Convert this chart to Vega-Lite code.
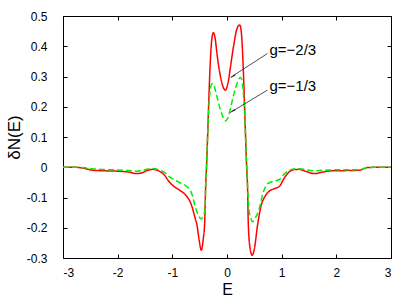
{
  "$schema": "https://vega.github.io/schema/vega-lite/v6.json",
  "width": 328,
  "height": 242,
  "autosize": "none",
  "padding": {"left": 63, "top": 16, "right": 24, "bottom": 39},
  "background": "white",
  "config": {
    "view": {"stroke": null},
    "font": "Liberation Sans",
    "axis": {"grid": false, "domainColor": "black", "tickColor": "black", "labelColor": "black", "titleColor": "black", "labelFont": "Liberation Sans", "titleFont": "Liberation Sans", "labelFontSize": 12, "titleFontSize": 17, "titleFontWeight": "normal", "domainWidth": 1, "tickWidth": 1}
  },
  "datasets": {
    "curves": [
      {"E": -3.0, "dN": 0, "g": "g=-2/3"},
      {"E": -2.8, "dN": 0, "g": "g=-2/3"},
      {"E": -2.6, "dN": -0.004, "g": "g=-2/3"},
      {"E": -2.45, "dN": -0.01, "g": "g=-2/3"},
      {"E": -2.2, "dN": -0.012, "g": "g=-2/3"},
      {"E": -2.0, "dN": -0.013, "g": "g=-2/3"},
      {"E": -1.8, "dN": -0.016, "g": "g=-2/3"},
      {"E": -1.65, "dN": -0.021, "g": "g=-2/3"},
      {"E": -1.55, "dN": -0.018, "g": "g=-2/3"},
      {"E": -1.45, "dN": -0.01, "g": "g=-2/3"},
      {"E": -1.35, "dN": -0.007, "g": "g=-2/3"},
      {"E": -1.25, "dN": -0.012, "g": "g=-2/3"},
      {"E": -1.15, "dN": -0.025, "g": "g=-2/3"},
      {"E": -1.05, "dN": -0.05, "g": "g=-2/3"},
      {"E": -0.95, "dN": -0.066, "g": "g=-2/3"},
      {"E": -0.85, "dN": -0.078, "g": "g=-2/3"},
      {"E": -0.75, "dN": -0.093, "g": "g=-2/3"},
      {"E": -0.65, "dN": -0.125, "g": "g=-2/3"},
      {"E": -0.58, "dN": -0.17, "g": "g=-2/3"},
      {"E": -0.55, "dN": -0.19, "g": "g=-2/3"},
      {"E": -0.51, "dN": -0.24, "g": "g=-2/3"},
      {"E": -0.47, "dN": -0.274, "g": "g=-2/3"},
      {"E": -0.43, "dN": -0.23, "g": "g=-2/3"},
      {"E": -0.41, "dN": -0.19, "g": "g=-2/3"},
      {"E": -0.39, "dN": -0.06, "g": "g=-2/3"},
      {"E": -0.375, "dN": 0, "g": "g=-2/3"},
      {"E": -0.355, "dN": 0.1, "g": "g=-2/3"},
      {"E": -0.335, "dN": 0.21, "g": "g=-2/3"},
      {"E": -0.31, "dN": 0.33, "g": "g=-2/3"},
      {"E": -0.28, "dN": 0.42, "g": "g=-2/3"},
      {"E": -0.25, "dN": 0.445, "g": "g=-2/3"},
      {"E": -0.22, "dN": 0.43, "g": "g=-2/3"},
      {"E": -0.18, "dN": 0.37, "g": "g=-2/3"},
      {"E": -0.13, "dN": 0.31, "g": "g=-2/3"},
      {"E": -0.08, "dN": 0.27, "g": "g=-2/3"},
      {"E": -0.03, "dN": 0.255, "g": "g=-2/3"},
      {"E": 0.02, "dN": 0.28, "g": "g=-2/3"},
      {"E": 0.07, "dN": 0.34, "g": "g=-2/3"},
      {"E": 0.12, "dN": 0.4, "g": "g=-2/3"},
      {"E": 0.17, "dN": 0.45, "g": "g=-2/3"},
      {"E": 0.21, "dN": 0.468, "g": "g=-2/3"},
      {"E": 0.234, "dN": 0.47, "g": "g=-2/3"},
      {"E": 0.26, "dN": 0.45, "g": "g=-2/3"},
      {"E": 0.29, "dN": 0.36, "g": "g=-2/3"},
      {"E": 0.32, "dN": 0.21, "g": "g=-2/3"},
      {"E": 0.34, "dN": 0.1, "g": "g=-2/3"},
      {"E": 0.36, "dN": 0, "g": "g=-2/3"},
      {"E": 0.375, "dN": -0.06, "g": "g=-2/3"},
      {"E": 0.39, "dN": -0.19, "g": "g=-2/3"},
      {"E": 0.42, "dN": -0.265, "g": "g=-2/3"},
      {"E": 0.46, "dN": -0.291, "g": "g=-2/3"},
      {"E": 0.5, "dN": -0.27, "g": "g=-2/3"},
      {"E": 0.56, "dN": -0.19, "g": "g=-2/3"},
      {"E": 0.62, "dN": -0.13, "g": "g=-2/3"},
      {"E": 0.7, "dN": -0.095, "g": "g=-2/3"},
      {"E": 0.78, "dN": -0.078, "g": "g=-2/3"},
      {"E": 0.88, "dN": -0.07, "g": "g=-2/3"},
      {"E": 0.96, "dN": -0.063, "g": "g=-2/3"},
      {"E": 1.05, "dN": -0.035, "g": "g=-2/3"},
      {"E": 1.14, "dN": -0.015, "g": "g=-2/3"},
      {"E": 1.22, "dN": -0.008, "g": "g=-2/3"},
      {"E": 1.32, "dN": -0.007, "g": "g=-2/3"},
      {"E": 1.45, "dN": -0.014, "g": "g=-2/3"},
      {"E": 1.6, "dN": -0.021, "g": "g=-2/3"},
      {"E": 1.75, "dN": -0.016, "g": "g=-2/3"},
      {"E": 1.9, "dN": -0.012, "g": "g=-2/3"},
      {"E": 2.2, "dN": -0.011, "g": "g=-2/3"},
      {"E": 2.42, "dN": -0.01, "g": "g=-2/3"},
      {"E": 2.57, "dN": -0.001, "g": "g=-2/3"},
      {"E": 2.8, "dN": 0, "g": "g=-2/3"},
      {"E": 3.0, "dN": 0, "g": "g=-2/3"},
      {"E": -3.0, "dN": 0, "g": "g=-1/3"},
      {"E": -2.8, "dN": 0, "g": "g=-1/3"},
      {"E": -2.6, "dN": -0.002, "g": "g=-1/3"},
      {"E": -2.4, "dN": -0.006, "g": "g=-1/3"},
      {"E": -2.2, "dN": -0.008, "g": "g=-1/3"},
      {"E": -2.0, "dN": -0.009, "g": "g=-1/3"},
      {"E": -1.8, "dN": -0.011, "g": "g=-1/3"},
      {"E": -1.65, "dN": -0.013, "g": "g=-1/3"},
      {"E": -1.55, "dN": -0.011, "g": "g=-1/3"},
      {"E": -1.45, "dN": -0.006, "g": "g=-1/3"},
      {"E": -1.35, "dN": -0.004, "g": "g=-1/3"},
      {"E": -1.25, "dN": -0.008, "g": "g=-1/3"},
      {"E": -1.15, "dN": -0.016, "g": "g=-1/3"},
      {"E": -1.05, "dN": -0.032, "g": "g=-1/3"},
      {"E": -0.95, "dN": -0.043, "g": "g=-1/3"},
      {"E": -0.85, "dN": -0.052, "g": "g=-1/3"},
      {"E": -0.75, "dN": -0.062, "g": "g=-1/3"},
      {"E": -0.65, "dN": -0.085, "g": "g=-1/3"},
      {"E": -0.57, "dN": -0.137, "g": "g=-1/3"},
      {"E": -0.52, "dN": -0.16, "g": "g=-1/3"},
      {"E": -0.47, "dN": -0.171, "g": "g=-1/3"},
      {"E": -0.43, "dN": -0.16, "g": "g=-1/3"},
      {"E": -0.4, "dN": -0.137, "g": "g=-1/3"},
      {"E": -0.39, "dN": -0.06, "g": "g=-1/3"},
      {"E": -0.375, "dN": 0, "g": "g=-1/3"},
      {"E": -0.355, "dN": 0.1, "g": "g=-1/3"},
      {"E": -0.335, "dN": 0.19, "g": "g=-1/3"},
      {"E": -0.31, "dN": 0.25, "g": "g=-1/3"},
      {"E": -0.28, "dN": 0.275, "g": "g=-1/3"},
      {"E": -0.26, "dN": 0.277, "g": "g=-1/3"},
      {"E": -0.23, "dN": 0.265, "g": "g=-1/3"},
      {"E": -0.18, "dN": 0.23, "g": "g=-1/3"},
      {"E": -0.12, "dN": 0.19, "g": "g=-1/3"},
      {"E": -0.07, "dN": 0.165, "g": "g=-1/3"},
      {"E": -0.027, "dN": 0.153, "g": "g=-1/3"},
      {"E": 0.02, "dN": 0.165, "g": "g=-1/3"},
      {"E": 0.07, "dN": 0.2, "g": "g=-1/3"},
      {"E": 0.13, "dN": 0.245, "g": "g=-1/3"},
      {"E": 0.19, "dN": 0.28, "g": "g=-1/3"},
      {"E": 0.246, "dN": 0.297, "g": "g=-1/3"},
      {"E": 0.28, "dN": 0.28, "g": "g=-1/3"},
      {"E": 0.31, "dN": 0.22, "g": "g=-1/3"},
      {"E": 0.33, "dN": 0.15, "g": "g=-1/3"},
      {"E": 0.35, "dN": 0.05, "g": "g=-1/3"},
      {"E": 0.36, "dN": 0, "g": "g=-1/3"},
      {"E": 0.375, "dN": -0.06, "g": "g=-1/3"},
      {"E": 0.4, "dN": -0.137, "g": "g=-1/3"},
      {"E": 0.44, "dN": -0.172, "g": "g=-1/3"},
      {"E": 0.47, "dN": -0.18, "g": "g=-1/3"},
      {"E": 0.51, "dN": -0.17, "g": "g=-1/3"},
      {"E": 0.59, "dN": -0.137, "g": "g=-1/3"},
      {"E": 0.66, "dN": -0.085, "g": "g=-1/3"},
      {"E": 0.74, "dN": -0.055, "g": "g=-1/3"},
      {"E": 0.82, "dN": -0.048, "g": "g=-1/3"},
      {"E": 0.96, "dN": -0.04, "g": "g=-1/3"},
      {"E": 1.05, "dN": -0.022, "g": "g=-1/3"},
      {"E": 1.14, "dN": -0.01, "g": "g=-1/3"},
      {"E": 1.22, "dN": -0.006, "g": "g=-1/3"},
      {"E": 1.32, "dN": -0.005, "g": "g=-1/3"},
      {"E": 1.45, "dN": -0.008, "g": "g=-1/3"},
      {"E": 1.6, "dN": -0.012, "g": "g=-1/3"},
      {"E": 1.75, "dN": -0.01, "g": "g=-1/3"},
      {"E": 1.9, "dN": -0.009, "g": "g=-1/3"},
      {"E": 2.2, "dN": -0.008, "g": "g=-1/3"},
      {"E": 2.42, "dN": -0.008, "g": "g=-1/3"},
      {"E": 2.57, "dN": -0.001, "g": "g=-1/3"},
      {"E": 2.8, "dN": 0, "g": "g=-1/3"},
      {"E": 3.0, "dN": 0, "g": "g=-1/3"}
    ],
    "arrows": [
      {"E": 0.74, "y": 0.376, "E2": 0.064, "y2": 0.297},
      {"E": 0.74, "y": 0.255, "E2": 0.06, "y2": 0.181}
    ],
    "labels": [
      {"E": 0.776, "y": 0.387, "label": "g=−2/3"},
      {"E": 0.776, "y": 0.268, "label": "g=−1/3"}
    ],
    "head1": [{"E": 0.12, "y": 0.302}],
    "head2": [{"E": 0.115, "y": 0.187}]
  },
  "resolve": {"axis": {"x": "independent", "y": "independent"}},
  "layer": [
    {
      "data": {"name": "curves"},
      "mark": {"type": "line", "interpolate": "monotone", "strokeWidth": 1.5, "clip": true},
      "encoding": {
        "x": {"field": "E", "type": "quantitative", "scale": {"domain": [-3, 3], "nice": false, "zero": false},
          "axis": {"orient": "bottom", "title": "E", "values": [-3, -2, -1, 0, 1, 2, 3], "format": "d", "labelExpr": "replace(datum.label, '−', '-')", "ticks": false, "labelPadding": 9, "titlePadding": 3, "titleFontSize": 16}},
        "y": {"field": "dN", "type": "quantitative", "scale": {"domain": [-0.3, 0.5], "nice": false, "zero": false},
          "axis": {"orient": "left", "title": "δN(E)", "values": [-0.3, -0.2, -0.1, 0, 0.1, 0.2, 0.3, 0.4, 0.5], "format": ".1~f", "labelExpr": "replace(datum.label, '−', '-')", "ticks": false, "labelPadding": 16, "titlePadding": 3}},
        "color": {"field": "g", "type": "nominal", "scale": {"domain": ["g=-2/3", "g=-1/3"], "range": ["#ff0000", "#00ee00"]}, "legend": null},
        "strokeDash": {"field": "g", "type": "nominal", "scale": {"domain": ["g=-2/3", "g=-1/3"], "range": [[1, 0], [6, 3]]}, "legend": null}
      }
    },
    {
      "data": {"name": "arrows"},
      "mark": {"type": "rule", "color": "#222222", "strokeWidth": 0.8},
      "encoding": {
        "x": {"field": "E", "type": "quantitative", "scale": {"domain": [-3, 3], "nice": false, "zero": false},
          "axis": {"orient": "top", "title": null, "labels": false, "tickSize": -4, "values": [-3, -2, -1, 0, 1, 2, 3]}},
        "y": {"field": "y", "type": "quantitative", "scale": {"domain": [-0.3, 0.5], "nice": false, "zero": false},
          "axis": {"orient": "right", "title": null, "labels": false, "tickSize": -4, "values": [-0.3, -0.2, -0.1, 0, 0.1, 0.2, 0.3, 0.4, 0.5]}},
        "x2": {"field": "E2"},
        "y2": {"field": "y2"}
      }
    },
    {
      "data": {"name": "head1"},
      "mark": {"type": "point", "shape": "wedge", "filled": true, "color": "#222222", "size": 40, "angle": 236.6, "opacity": 1},
      "encoding": {
        "x": {"field": "E", "type": "quantitative", "scale": {"domain": [-3, 3], "nice": false, "zero": false},
          "axis": {"orient": "bottom", "title": null, "labels": false, "domain": false, "tickSize": -4, "values": [-3, -2, -1, 0, 1, 2, 3]}},
        "y": {"field": "y", "type": "quantitative", "scale": {"domain": [-0.3, 0.5], "nice": false, "zero": false},
          "axis": {"orient": "left", "title": null, "labels": false, "domain": false, "tickSize": -4, "values": [-0.3, -0.2, -0.1, 0, 0.1, 0.2, 0.3, 0.4, 0.5]}}
      }
    },
    {
      "data": {"name": "head2"},
      "mark": {"type": "point", "shape": "wedge", "filled": true, "color": "#222222", "size": 40, "angle": 238.7, "opacity": 1},
      "encoding": {
        "x": {"field": "E", "type": "quantitative", "scale": {"domain": [-3, 3], "nice": false, "zero": false}, "axis": null},
        "y": {"field": "y", "type": "quantitative", "scale": {"domain": [-0.3, 0.5], "nice": false, "zero": false}, "axis": null}
      }
    },
    {
      "data": {"name": "labels"},
      "mark": {"type": "text", "align": "left", "baseline": "middle", "fontSize": 15, "font": "Liberation Sans", "color": "black"},
      "encoding": {
        "x": {"field": "E", "type": "quantitative", "scale": {"domain": [-3, 3], "nice": false, "zero": false}, "axis": null},
        "y": {"field": "y", "type": "quantitative", "scale": {"domain": [-0.3, 0.5], "nice": false, "zero": false}, "axis": null},
        "text": {"field": "label"}
      }
    }
  ]
}
